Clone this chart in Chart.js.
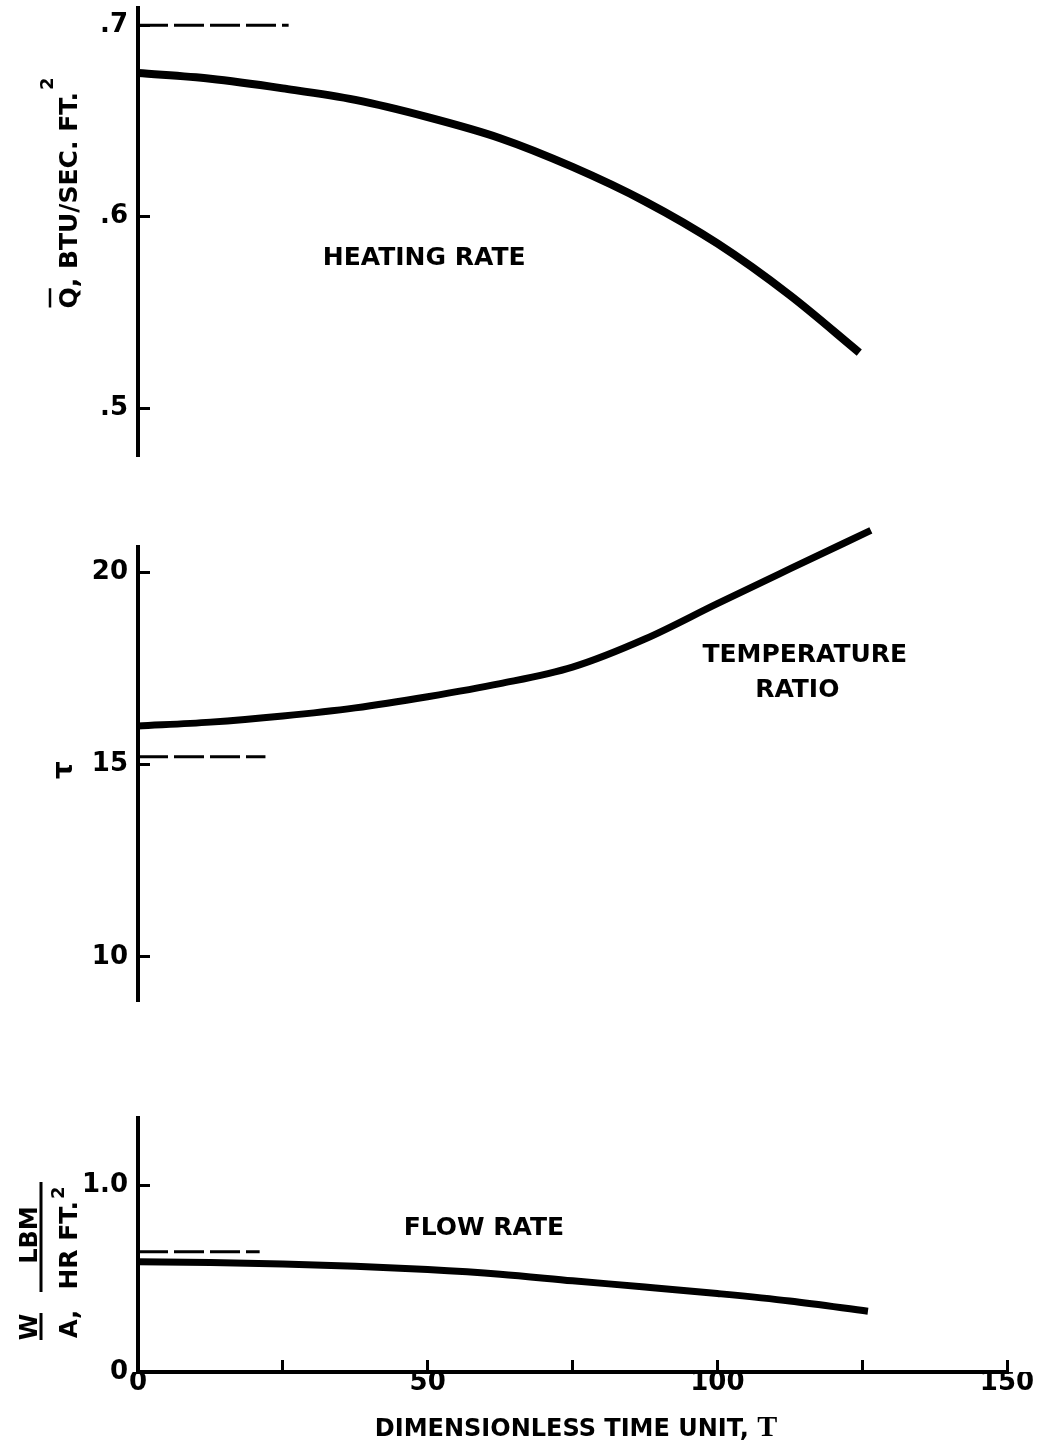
<!DOCTYPE html>
<html>
<head>
<meta charset="utf-8">
<script src="https://cdn.jsdelivr.net/npm/chart.js@4.4.1/dist/chart.umd.min.js"></script>
<style>
  body { margin: 0; background: #fff; }
  #wrap { position: relative; width: 1044px; height: 1450px; background: #fff; }
  canvas { position: absolute; left: 0; }
</style>
</head>
<body>
<div id="wrap">
  <canvas id="heat" width="1044" height="500" style="top:0px"></canvas>
  <canvas id="temp" width="1044" height="560" style="top:500px"></canvas>
  <canvas id="flow" width="1044" height="390" style="top:1060px"></canvas>
</div>
<script>
// values
const heatT = [0, 12.5, 25, 37.5, 50, 62.5, 75, 87.5, 100, 112.5, 124.5];
const heatingRate = [0.675, 0.672, 0.667, 0.661, 0.652, 0.641, 0.626, 0.608, 0.586, 0.559, 0.529];
const tempT = [0, 12.5, 25, 37.5, 50, 62.5, 75, 87.5, 100, 112.5, 126.5];
const tempRatio = [16.0, 16.1, 16.26, 16.47, 16.76, 17.1, 17.53, 18.26, 19.18, 20.08, 21.08];
const flowT = [0, 12.5, 25, 37.5, 50, 62.5, 75, 87.5, 100, 112.5, 126];
const flowRate = [0.59, 0.586, 0.578, 0.566, 0.548, 0.523, 0.488, 0.455, 0.42, 0.38, 0.325];

// dashed reference levels
const heatRefT = [0, 26];
const heatRef = [0.7, 0.7];
const tempRefT = [0, 22];
const tempRef = [15.2, 15.2];
const flowRefT = [0, 21];
const flowRef = [0.643, 0.643];

// ticks
const xTicks = [0, 25, 50, 75, 100, 125, 150];
const xTickLabels = ['0', '', '50', '', '100', '', '150'];
const heatTicks = [0.5, 0.6, 0.7];
const heatTickLabels = ['.5', '.6', '.7'];
const tempTicks = [10, 15, 20];
const tempTickLabels = ['10', '15', '20'];
const flowTicks = [0, 1.0];
const flowTickLabels = ['0', '1.0'];

const SANS = '"DejaVu Sans", sans-serif';
const SERIF = '"Liberation Serif", "DejaVu Serif", serif';

function pts(xs, ys) {
  return xs.map((x, i) => ({x: x, y: ys[i]}));
}

function fixedTicks(vals) {
  return function(scale) {
    scale.ticks = vals.map(v => ({value: v}));
  };
}

function yAxis(min, max, ticks, labels) {
  return {
    type: 'linear',
    position: 'left',
    min: min,
    max: max,
    afterBuildTicks: fixedTicks(ticks),
    afterFit: s => { s.width = 138; s.paddingTop = 0; s.paddingBottom = 0; },
    border: {display: true, color: '#000', width: 4},
    grid: {drawOnChartArea: false, drawTicks: true, tickLength: -12, lineWidth: 3, color: '#000'},
    ticks: {
      color: '#000', padding: 22, autoSkip: false,
      font: {family: SANS, size: 26, weight: 'bold'},
      callback: (v, i) => labels[i]
    }
  };
}

function xAxis(show) {
  return {
    type: 'linear',
    position: 'bottom',
    min: 0,
    max: 150,
    display: show,
    afterBuildTicks: fixedTicks(xTicks),
    afterFit: s => {
      s.height = show ? 78 : 0;
      s.paddingLeft = 0;
      s.paddingRight = 0;
    },
    border: {display: true, color: '#000', width: 4},
    grid: {drawOnChartArea: false, drawTicks: true, tickLength: -12, lineWidth: 3, color: '#000'},
    ticks: {
      color: '#000', padding: 8, autoSkip: false, maxRotation: 0,
      font: {family: SANS, size: 26, weight: 'bold'},
      callback: (v, i) => xTickLabels[i]
    }
  };
}

function curve(data, width) {
  return {
    data: data,
    borderColor: '#000',
    borderWidth: width,
    pointRadius: 0,
    cubicInterpolationMode: 'monotone',
    borderCapStyle: 'butt',
    borderJoinStyle: 'round',
    clip: false,
    fill: false
  };
}

function dashed(data) {
  return {
    data: data,
    borderColor: '#000',
    borderWidth: 3,
    borderDash: [30, 6],
    pointRadius: 0,
    clip: false,
    fill: false
  };
}

// text drawn rotated, reading upward
function rot(ctx, text, xBase, yCenter, font) {
  ctx.save();
  ctx.translate(xBase, yCenter);
  ctx.rotate(-Math.PI / 2);
  ctx.font = font;
  ctx.textAlign = 'center';
  ctx.textBaseline = 'alphabetic';
  ctx.fillText(text, 0, 0);
  ctx.restore();
}

// rotated text with a superscript at the end
function rotSup(ctx, main, sup, xBase, yCenter, supRise) {
  ctx.save();
  ctx.translate(xBase, yCenter);
  ctx.rotate(-Math.PI / 2);
  ctx.textAlign = 'left';
  ctx.textBaseline = 'alphabetic';
  ctx.font = 'bold 25px ' + SANS;
  const wMain = ctx.measureText(main).width;
  ctx.font = 'bold 18px ' + SANS;
  const wSup = ctx.measureText(sup).width;
  const u0 = -(wMain + wSup + 2) / 2;
  ctx.font = 'bold 25px ' + SANS;
  ctx.fillText(main, u0, 0);
  ctx.font = 'bold 18px ' + SANS;
  ctx.fillText(sup, u0 + wMain + 2, -supRise);
  ctx.restore();
  return u0;
}

function textPlugin(labels, extra) {
  return {
    id: 'notes',
    afterDraw(chart) {
      const ctx = chart.ctx;
      const sx = chart.scales.x, sy = chart.scales.y;
      ctx.save();
      ctx.fillStyle = '#000';
      ctx.strokeStyle = '#000';
      ctx.textAlign = 'center';
      ctx.textBaseline = 'middle';
      ctx.font = 'bold 25px ' + SANS;
      labels.forEach(l => ctx.fillText(l.text, sx.getPixelForValue(l.t), sy.getPixelForValue(l.v)));
      extra(ctx, chart);
      ctx.restore();
    }
  };
}

function baseOptions(x, y, pad) {
  return {
    responsive: false,
    animation: false,
    layout: {padding: pad},
    plugins: {legend: {display: false}, tooltip: {enabled: false}, title: {display: false}},
    scales: {x: x, y: y}
  };
}

// heating rate
new Chart(document.getElementById('heat'), {
  type: 'line',
  data: {datasets: [curve(pts(heatT, heatingRate), 8), dashed(pts(heatRefT, heatRef))]},
  options: baseOptions(xAxis(false), yAxis(0.4755, 0.709, heatTicks, heatTickLabels),
    {left: 0, right: 37, top: 8, bottom: 45}),
  plugins: [textPlugin([{text: 'HEATING RATE', t: 49.4, v: 0.578}], (ctx) => {
    ctx.save();
    ctx.font = 'bold 25px ' + SANS;
    const wQ = ctx.measureText('Q').width;
    ctx.restore();
    const u0 = rotSup(ctx, 'Q, BTU/SEC. FT.', '2', 77, 193, 24);
    // bar over Q
    ctx.lineWidth = 2.5;
    ctx.beginPath();
    ctx.moveTo(50, 193 - u0 - 1);
    ctx.lineTo(50, 193 - u0 - wQ + 1);
    ctx.stroke();
  })]
});

// temperature ratio
new Chart(document.getElementById('temp'), {
  type: 'line',
  data: {datasets: [curve(pts(tempT, tempRatio), 7), dashed(pts(tempRefT, tempRef))]},
  options: baseOptions(xAxis(false), yAxis(8.88, 20.65, tempTicks, tempTickLabels),
    {left: 0, right: 37, top: 47, bottom: 60}),
  plugins: [textPlugin([
    {text: 'TEMPERATURE', t: 115.1, v: 17.83},
    {text: 'RATIO', t: 113.8, v: 16.92}
  ], (ctx) => {
    rot(ctx, 'τ', 72, 270, 'bold 28px ' + SANS);
  })]
});

// flow rate
new Chart(document.getElementById('flow'), {
  type: 'line',
  data: {datasets: [curve(pts(flowT, flowRate), 7), dashed(pts(flowRefT, flowRef))]},
  options: baseOptions(xAxis(true), yAxis(0, 1.359, flowTicks, flowTickLabels),
    {left: 0, right: 37, top: 58, bottom: 0}),
  plugins: [textPlugin([{text: 'FLOW RATE', t: 59.7, v: 0.77}], (ctx) => {
    // W / A fraction
    rot(ctx, 'W', 37, 267, 'bold 24px ' + SANS);
    rot(ctx, 'A,', 77, 264, 'bold 24px ' + SANS);
    rot(ctx, 'LBM', 37, 175, 'bold 24px ' + SANS);
    rotSup(ctx, 'HR FT.', '2', 77, 178, 13);
    ctx.lineWidth = 3;
    ctx.beginPath();
    ctx.moveTo(41, 253); ctx.lineTo(41, 280);
    ctx.moveTo(41, 122); ctx.lineTo(41, 232);
    ctx.stroke();
    // x title
    const left = 'DIMENSIONLESS TIME UNIT, ';
    ctx.textAlign = 'left';
    ctx.textBaseline = 'alphabetic';
    ctx.font = 'bold 24px ' + SANS;
    const wl = ctx.measureText(left).width;
    ctx.font = 'bold 30px ' + SERIF;
    const wt = ctx.measureText('T').width;
    const x0 = 576 - (wl + wt) / 2;
    ctx.font = 'bold 24px ' + SANS;
    ctx.fillText(left, x0, 376);
    ctx.font = 'bold 30px ' + SERIF;
    ctx.fillText('T', x0 + wl, 376);
  })]
});
</script>
</body>
</html>
